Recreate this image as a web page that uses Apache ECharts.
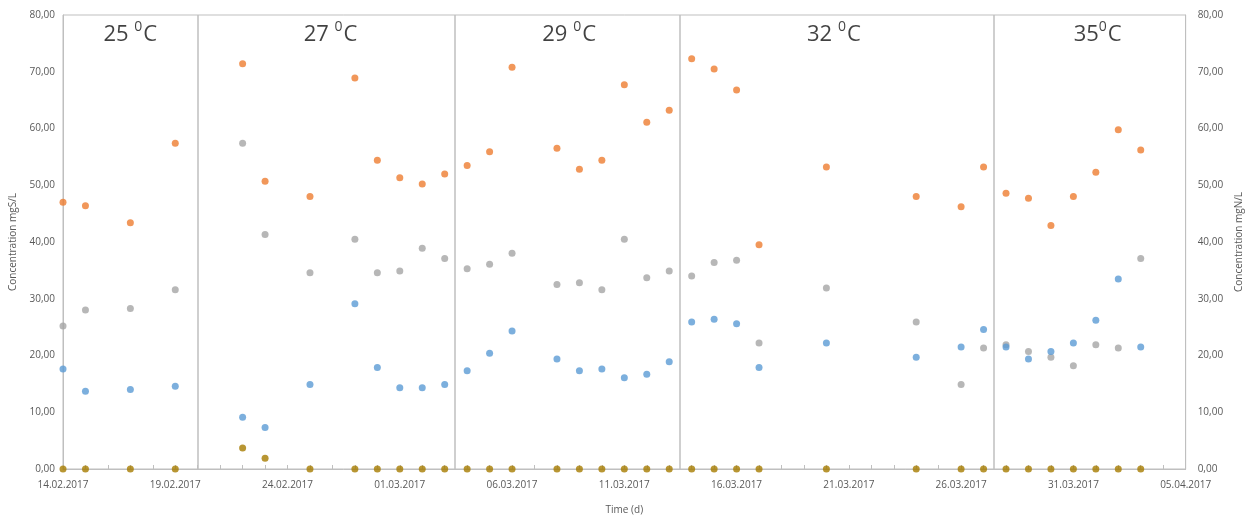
<!DOCTYPE html>
<html>
<head>
<meta charset="utf-8">
<script src="https://cdn.jsdelivr.net/npm/echarts@6/dist/echarts.min.js"></script>
<style>
html,body{margin:0;padding:0;background:#fff;}
#chart{width:1252px;height:520px;}
</style>
</head>
<body>
<div id="chart"></div>
<script>
// sampling dates
const dates = [
  "2017-02-14","2017-02-15","2017-02-17","2017-02-19",
  "2017-02-22","2017-02-23","2017-02-25","2017-02-27","2017-02-28","2017-03-01","2017-03-02","2017-03-03",
  "2017-03-04","2017-03-05","2017-03-06","2017-03-08","2017-03-09","2017-03-10","2017-03-11","2017-03-12","2017-03-13",
  "2017-03-14","2017-03-15","2017-03-16","2017-03-17","2017-03-20","2017-03-24","2017-03-26","2017-03-27",
  "2017-03-28","2017-03-29","2017-03-30","2017-03-31","2017-04-01","2017-04-02","2017-04-03"
];
// series values
const orangeVals = [
  47.0,46.4,43.4,57.4,
  71.4,50.7,48.0,68.9,54.4,51.3,50.2,52.0,
  53.5,55.9,70.8,56.5,52.8,54.4,67.7,61.1,63.2,
  72.3,70.5,66.8,39.5,53.2,48.0,46.2,53.2,
  48.6,47.7,42.9,48.0,52.3,59.8,56.2
];
const grayVals = [
  25.2,28.0,28.3,31.6,
  57.4,41.3,34.6,40.5,34.6,34.9,38.9,37.1,
  35.3,36.1,38.0,32.5,32.8,31.6,40.5,33.7,34.9,
  34.0,36.4,36.8,22.2,31.9,25.9,14.9,21.3,
  21.9,20.7,19.7,18.2,21.9,21.3,37.1
];
const blueVals = [
  17.6,13.7,14.0,14.6,
  9.1,7.3,14.9,29.1,17.9,14.3,14.3,14.9,
  17.3,20.4,24.3,19.4,17.3,17.6,16.1,16.7,18.9,
  25.9,26.4,25.6,17.9,22.2,19.7,21.5,24.6,
  21.5,19.4,20.7,22.2,26.2,33.5,21.5
];
const brownVals = [
  0,0,0,0,
  3.7,1.9,0,0,0,0,0,0,
  0,0,0,0,0,0,0,0,0,
  0,0,0,0,0,0,0,0,
  0,0,0,0,0,0,0
];
// temperature sections
const sectionTemps = ["25","27","29","32","35"];
const sectionSpace = [" "," "," "," ",""];
const sectionLabelDates = ["2017-02-17","2017-02-25 22:00","2017-03-08 13:00","2017-03-20 08:00","2017-04-01 02:00"];
const dividerDates = ["2017-02-20","2017-03-03 11:00","2017-03-13 11:00","2017-03-27 11:00"];
const axisStart = "2017-02-14";
const axisEnd = "2017-04-05";

const DAY = 86400000;
function toDay(s){
  const [d,t] = s.split(" ");
  const [Y,M,D] = d.split("-").map(Number);
  let h = 0;
  if(t){ h = Number(t.split(":")[0]); }
  return Date.UTC(Y,M-1,D,h);
}
const t0 = toDay(axisStart);
const dayOf = s => (toDay(s)-t0)/DAY;
const xMax = dayOf(axisEnd);
function fmtDate(v){
  const dt = new Date(t0 + v*DAY);
  const p = n => String(n).padStart(2,"0");
  return p(dt.getUTCDate())+"."+p(dt.getUTCMonth()+1)+"."+dt.getUTCFullYear();
}
const pts = vals => vals.map((v,i)=>[dayOf(dates[i]), v]);

const chart = echarts.init(document.getElementById('chart'), null, {renderer:'canvas'});
const axisColor = "#BFBFBF";
const txtColor = "#595959";
const font = "'Open Sans', 'Liberation Sans', sans-serif";
const yLabelFmt = v => v.toFixed(2).replace(".", ",");

function yAxisDef(pos, name){
  return {
    type:'value', position:pos, min:0, max:80, interval:10,
    name:name, nameLocation:'middle', nameGap:44,
    nameTextStyle:{color:txtColor, fontSize:10, fontFamily:font},
    axisLine:{show:true, lineStyle:{color:axisColor}},
    axisTick:{show:false},
    splitLine:{show:false},
    axisLabel:{color:txtColor, fontSize:10, fontFamily:font, margin: pos==='left'?8:12, formatter:yLabelFmt}
  };
}

const markerSize = 7;
function sc(name, color, vals){
  return {
    name, type:'scatter', data:pts(vals), symbol:'circle', symbolSize:markerSize,
    itemStyle:{color:color}, z:5
  };
}

const option = {
  animation:false,
  backgroundColor:'#fff',
  grid:{left:63, right:63, top:15, bottom:44, show:true, borderColor:axisColor, borderWidth:1, containLabel:false},
  xAxis:{
    type:'value', min:0, max:xMax, interval:5,
    name:'Time (d)', nameLocation:'middle', nameGap:36,
    nameTextStyle:{color:txtColor, fontSize:10, fontFamily:font},
    axisLine:{show:true, onZero:false, lineStyle:{color:axisColor}},
    axisTick:{show:true, inside:true, length:4, lineStyle:{color:axisColor}},
    minorTick:{show:true, splitNumber:5, length:4, lineStyle:{color:axisColor}},
    splitLine:{show:false},
    axisLabel:{color:txtColor, fontSize:10, fontFamily:font, margin:11, formatter:fmtDate, showMaxLabel:true, showMinLabel:true}
  },
  yAxis:[yAxisDef('left','Concentration mgS/L'), yAxisDef('right','Concentration mgN/L')],
  series:[
    sc('Orange', '#ED7D31', orangeVals),
    sc('Gray', '#A5A5A5', grayVals),
    sc('Blue', '#5B9BD5', blueVals),
    Object.assign(sc('Brown', '#A67C00', brownVals), {
      markLine:{
        silent:true, symbol:'none', animation:false,
        label:{show:false},
        lineStyle:{color:'#BFBFBF', width:1.5, type:'solid'},
        data: dividerDates.map(d=>({xAxis: dayOf(d)}))
      }
    }),
    {
      name:'labels', type:'scatter', symbolSize:0, silent:true,
      data: sectionLabelDates.map((d,i)=>({value:[dayOf(d), 76.8], temp:sectionTemps[i], sp:sectionSpace[i]})),
      label:{
        show:true, position:'inside',
        formatter: p => "{n|"+p.data.temp+p.data.sp+"}{s|0}{n|C}",
        rich:{
          n:{fontSize:22, color:'#111111', fontFamily:font, verticalAlign:'bottom', lineHeight:26},
          s:{fontSize:14, color:'#111111', fontFamily:font, verticalAlign:'top', lineHeight:26, padding:[0,1,10,0]}
        }
      }
    }
  ]
};
chart.setOption(option);
</script>
</body>
</html>
